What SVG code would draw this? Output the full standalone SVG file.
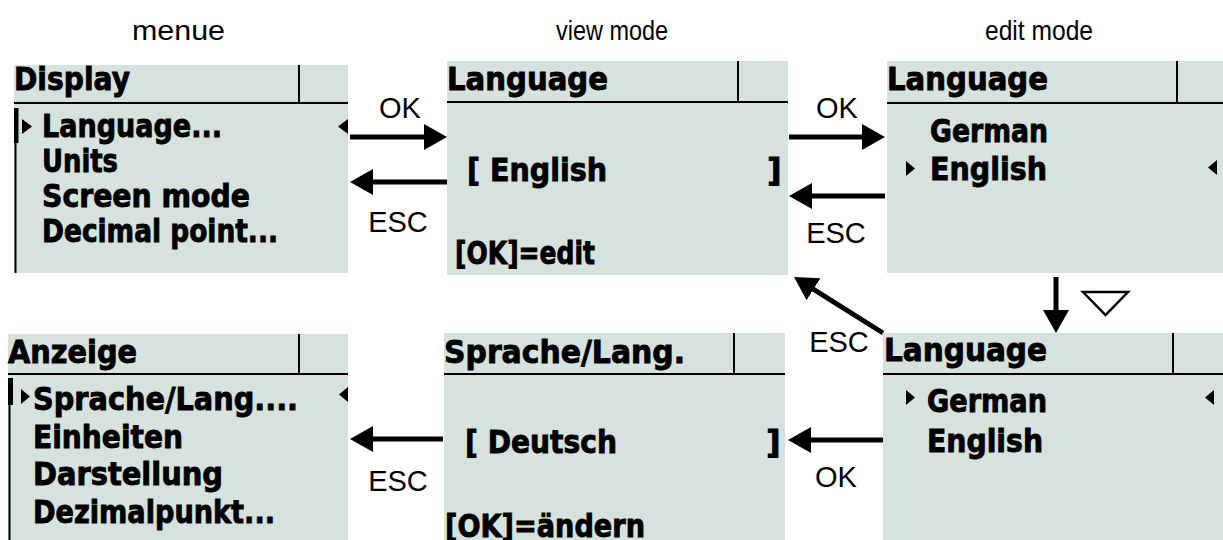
<svg xmlns="http://www.w3.org/2000/svg" width="1223" height="540" viewBox="0 0 1223 540">
<style>
.panel{fill:#d6e2dd}
.rule{stroke:#000;stroke-width:2;fill:none}
.lcd{font-family:"DejaVu Sans",sans-serif;font-weight:bold;font-size:32px;fill:#000;stroke:#000;stroke-width:0.9px}
.lbl{font-family:"Liberation Sans",Arial,sans-serif;font-size:29px;fill:#000;text-anchor:middle}
.hdr{font-family:"Liberation Sans",Arial,sans-serif;font-size:28px;fill:#000}
.arr{stroke:#000;stroke-width:5;fill:none;marker-end:url(#ah)}
.tri{fill:#000}
</style>
<defs>
<marker id="ah" viewBox="0 0 23 26" markerWidth="23" markerHeight="26" refX="13" refY="13" orient="auto" markerUnits="userSpaceOnUse">
<path d="M0,0 L23,13 L0,26 z" fill="#000"/>
</marker>
</defs>
<rect width="1223" height="540" fill="#fff"/>
<g id="headers">
<text class="hdr" x="132" y="40" textLength="93" lengthAdjust="spacingAndGlyphs">menue</text>
<text class="hdr" x="556" y="40" textLength="112" lengthAdjust="spacingAndGlyphs">view mode</text>
<text class="hdr" x="985" y="40" textLength="108" lengthAdjust="spacingAndGlyphs">edit mode</text>
</g>
<g id="menu-en">
<rect class="panel" x="14" y="65" width="334" height="208"/>
<line class="rule" x1="14" y1="103" x2="348" y2="103"/>
<line class="rule" x1="299" y1="65" x2="299" y2="103"/>
<rect x="14" y="108" width="4.5" height="35" fill="#000"/>
<line class="rule" x1="15.5" y1="108" x2="15.5" y2="273"/>
<text class="lcd" x="14" y="90" textLength="116" lengthAdjust="spacingAndGlyphs">Display</text>
<polygon class="tri" points="22,119 32,126.5 22,134"/>
<text class="lcd" x="42" y="137" textLength="180" lengthAdjust="spacingAndGlyphs">Language...</text>
<polygon class="tri" points="348,119 338,126.5 348,134"/>
<text class="lcd" x="42" y="172" textLength="76" lengthAdjust="spacingAndGlyphs">Units</text>
<text class="lcd" x="42" y="207" textLength="208" lengthAdjust="spacingAndGlyphs">Screen mode</text>
<text class="lcd" x="42" y="242" textLength="236" lengthAdjust="spacingAndGlyphs">Decimal point...</text>
</g>
<g id="view-en">
<rect class="panel" x="447" y="61" width="341" height="214"/>
<line class="rule" x1="447" y1="102" x2="788" y2="102"/>
<line class="rule" x1="738" y1="61" x2="738" y2="102"/>
<text class="lcd" x="447" y="90" textLength="161" lengthAdjust="spacingAndGlyphs">Language</text>
<text class="lcd" x="467" y="181" textLength="140" lengthAdjust="spacingAndGlyphs">[ English</text>
<text class="lcd" x="767" y="181">]</text>
<text class="lcd" x="455" y="264" textLength="140" lengthAdjust="spacingAndGlyphs">[OK]=edit</text>
</g>
<g id="edit-en">
<rect class="panel" x="887" y="61" width="336" height="212"/>
<line class="rule" x1="887" y1="103" x2="1223" y2="103"/>
<line class="rule" x1="1177" y1="61" x2="1177" y2="103"/>
<text class="lcd" x="887" y="90" textLength="161" lengthAdjust="spacingAndGlyphs">Language</text>
<text class="lcd" x="930" y="142" textLength="118" lengthAdjust="spacingAndGlyphs">German</text>
<polygon class="tri" points="906,161 915,168.5 906,176"/>
<text class="lcd" x="930" y="180" textLength="117" lengthAdjust="spacingAndGlyphs">English</text>
<polygon class="tri" points="1217,160 1208,167.5 1217,175"/>
</g>
<g id="menu-de">
<rect class="panel" x="8" y="334" width="340" height="206"/>
<line class="rule" x1="8" y1="374" x2="348" y2="374"/>
<line class="rule" x1="299" y1="334" x2="299" y2="374"/>
<rect x="8" y="378" width="5" height="27" fill="#000"/>
<line class="rule" x1="9.5" y1="378" x2="9.5" y2="540"/>
<text class="lcd" x="8" y="363" textLength="129" lengthAdjust="spacingAndGlyphs">Anzeige</text>
<polygon class="tri" points="21,389 30,396.5 21,404"/>
<text class="lcd" x="33" y="410" textLength="265" lengthAdjust="spacingAndGlyphs">Sprache/Lang....</text>
<polygon class="tri" points="348,387 339,394.5 348,402"/>
<text class="lcd" x="33" y="448" textLength="150" lengthAdjust="spacingAndGlyphs">Einheiten</text>
<text class="lcd" x="33" y="485" textLength="190" lengthAdjust="spacingAndGlyphs">Darstellung</text>
<text class="lcd" x="33" y="523" textLength="242" lengthAdjust="spacingAndGlyphs">Dezimalpunkt...</text>
</g>
<g id="view-de">
<rect class="panel" x="444" y="333" width="341" height="207"/>
<line class="rule" x1="444" y1="374" x2="785" y2="374"/>
<line class="rule" x1="734" y1="333" x2="734" y2="374"/>
<text class="lcd" x="444" y="363" textLength="241" lengthAdjust="spacingAndGlyphs">Sprache/Lang.</text>
<text class="lcd" x="465" y="453" textLength="152" lengthAdjust="spacingAndGlyphs">[ Deutsch</text>
<text class="lcd" x="766" y="453">]</text>
<text class="lcd" x="445" y="537" textLength="200" lengthAdjust="spacingAndGlyphs">[OK]=ändern</text>
</g>
<g id="edit-de">
<rect class="panel" x="883" y="333" width="340" height="207"/>
<line class="rule" x1="883" y1="374" x2="1223" y2="374"/>
<line class="rule" x1="1173" y1="333" x2="1173" y2="374"/>
<text class="lcd" x="884" y="361" textLength="163" lengthAdjust="spacingAndGlyphs">Language</text>
<polygon class="tri" points="906,390 915,397.5 906,405"/>
<text class="lcd" x="927" y="412" textLength="120" lengthAdjust="spacingAndGlyphs">German</text>
<polygon class="tri" points="1214,390 1205,397.5 1214,405"/>
<text class="lcd" x="927" y="452" textLength="116" lengthAdjust="spacingAndGlyphs">English</text>
</g>
<g id="connectors">
<path class="arr" d="M350,137 H437"/>
<path class="arr" d="M447,182 H360"/>
<path class="arr" d="M789,137 H875"/>
<path class="arr" d="M885,196 H799"/>
<path class="arr" d="M1056,277 V323"/>
<path class="arr" d="M883,333 L802.5,282.3"/>
<path class="arr" d="M883,440 H798"/>
<path class="arr" d="M443,439 H360"/>
<polygon points="1083,292 1128,292 1105.5,315" fill="none" stroke="#000" stroke-width="2.5"/>
<text class="lbl" x="400" y="118">OK</text>
<text class="lbl" x="398" y="232">ESC</text>
<text class="lbl" x="837" y="118">OK</text>
<text class="lbl" x="836" y="243">ESC</text>
<text class="lbl" x="839" y="352">ESC</text>
<text class="lbl" x="836" y="487">OK</text>
<text class="lbl" x="398" y="491">ESC</text>
</g>
</svg>
